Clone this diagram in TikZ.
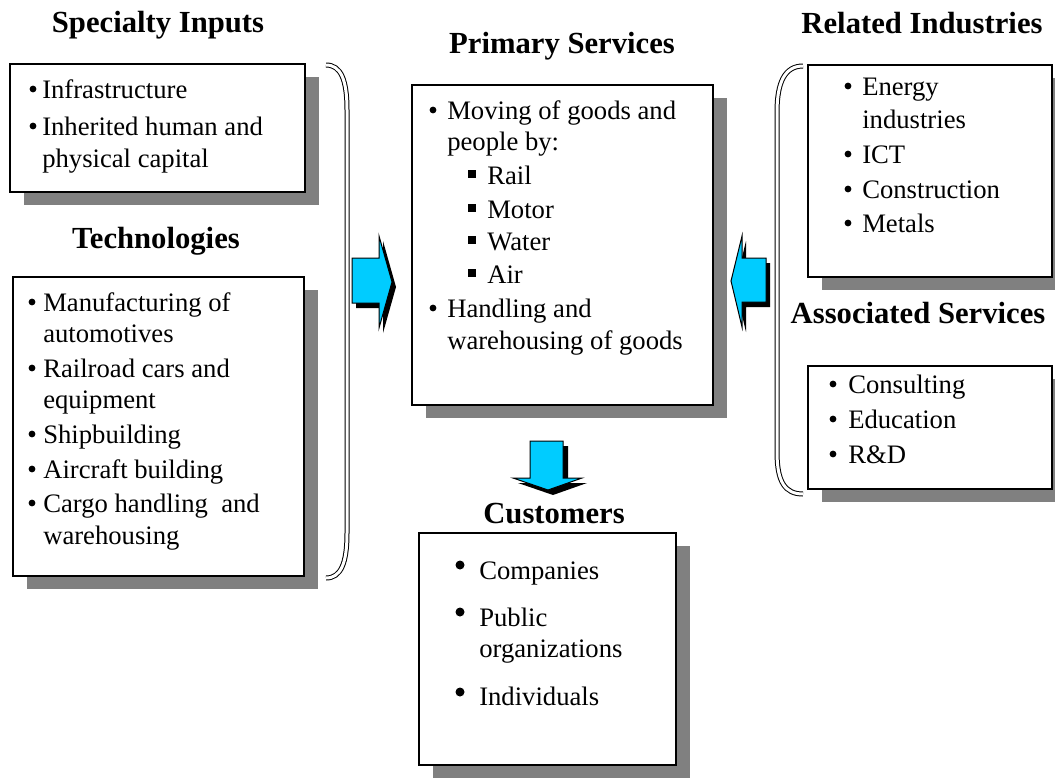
\documentclass[tikz,border=0pt]{standalone}
\usepackage{fontspec}
\setmainfont{Liberation Serif}
\usetikzlibrary{fit}
\definecolor{arrowcyan}{HTML}{00CCFF}
\definecolor{shadowgray}{HTML}{808080}
\newcommand\mytl[4]{\node[txt] (#1) at (#2,#3) {#4};}
\newcommand\mybul[2]{\fill (#1,#2) circle [radius=3.4];}
\newcommand\mybigbul[2]{\fill (#1,#2) circle [radius=4.5];}
\newcommand\mysq[2]{\fill (#1-3.6,#2-3.6) rectangle (#1+3.6,#2+3.6);}
\newcommand\myshbox[5]{%
  \fill[shadowgray] (#2+14,#3+13) rectangle (#4+14,#5+13);
  \node[boxst, fit={(#2,#3) (#4,#5)}] (#1) {};}
\begin{document}
\begin{tikzpicture}[x=0.75pt,y=-0.75pt,
  txt/.style={anchor=base west, inner sep=0pt, font=\fontsize{20}{24}\selectfont},
  ttl/.style={anchor=base, inner sep=0pt, font=\fontsize{23}{27}\selectfont\bfseries},
  boxst/.style={draw=black, line width=1.5pt, fill=white, inner sep=0pt, outer sep=0pt},
  blockarrow/.style={fill=arrowcyan, draw=black, line width=0.75pt, line join=miter},
  arrowshadow/.style={fill=black},
  bracket/.style={draw=black, double=white, double distance=2.25pt, line width=0.75pt}]
\useasboundingbox (0,0) rectangle (1055,778);
\fill[white] (0,0) rectangle (1055,778);

% ---------- boxes ----------
\myshbox{spec}{10}{64}{305}{192}
\myshbox{tech}{13}{277}{304}{576}
\myshbox{prim}{412}{85}{713}{405}
\myshbox{rel}{808}{65}{1052}{277}
\myshbox{assoc}{808}{366}{1052}{489}
\myshbox{cust}{419}{533}{676}{765}

% ---------- titles ----------
\node[ttl] (tspec) at (158,32) {Specialty Inputs};
\node[ttl] (ttech) at (156,248) {Technologies};
\node[ttl] (tprim) at (562,53) {Primary Services};
\node[ttl] (trel) at (922,33) {Related Industries};
\node[ttl] (tassoc) at (918,323) {Associated Services};
\node[ttl] (tcust) at (554,523) {Customers};

% ---------- Specialty Inputs ----------
\mybul{33}{89}\mytl{s1}{42}{98}{Infrastructure}
\mybul{33}{126}\mytl{s2}{42}{135}{Inherited human and}
\mytl{s3}{42}{167}{physical capital}

% ---------- Technologies ----------
\mybul{32}{302}\mytl{t1}{43}{311}{Manufacturing of}
\mytl{t2}{43}{342}{automotives}
\mybul{32}{368}\mytl{t3}{43}{377}{Railroad cars and}
\mytl{t4}{43}{408}{equipment}
\mybul{32}{434}\mytl{t5}{43}{443}{Shipbuilding}
\mybul{32}{469}\mytl{t6}{43}{478}{Aircraft building}
\mybul{32}{503}\mytl{t7}{43}{512}{Cargo handling\ \ and}
\mytl{t8}{43}{544}{warehousing}

% ---------- Primary Services ----------
\mybul{433}{110}\mytl{p1}{447}{119}{Moving of goods and}
\mytl{p2}{447}{150}{people by:}
\mysq{472}{174}\mytl{p3}{487}{184}{Rail}
\mysq{472}{208}\mytl{p4}{487}{218}{Motor}
\mysq{472}{240}\mytl{p5}{487}{250}{Water}
\mysq{472}{273}\mytl{p6}{487}{283}{Air}
\mybul{433}{308}\mytl{p7}{447}{317}{Handling and}
\mytl{p8}{447}{349}{warehousing of goods}

% ---------- Related Industries ----------
\mybul{848}{86}\mytl{r1}{862}{95}{Energy}
\mytl{r2}{862}{128}{industries}
\mybul{848}{154}\mytl{r3}{862}{163}{ICT}
\mybul{848}{189}\mytl{r4}{862}{198}{Construction}
\mybul{848}{223}\mytl{r5}{862}{232}{Metals}

% ---------- Associated Services ----------
\mybul{833}{384}\mytl{a1}{848}{393}{Consulting}
\mybul{833}{419}\mytl{a2}{848}{428}{Education}
\mybul{833}{454}\mytl{a3}{848}{463}{R\&D}

% ---------- Customers ----------
\mybigbul{460}{565}\mytl{c1}{479}{579}{Companies}
\mybigbul{460}{612}\mytl{c2}{479}{626}{Public}
\mytl{c3}{479}{657}{organizations}
\mybigbul{460}{692}\mytl{c4}{479}{705}{Individuals}

% ---------- brackets ----------
\draw[bracket] (326,65) .. controls (341,65) and (347,80) .. (347,110)
  -- (347,533) .. controls (347,563) and (341,578) .. (326,578);
\draw[bracket] (803,66) .. controls (785,66) and (777,82) .. (777,112)
  -- (777,452) .. controls (777,482) and (785,494) .. (803,494);

% ---------- block arrows ----------
\fill[arrowshadow, shift={(4,5)}] (352,258) -- (379,258) -- (379,236) -- (392,282) -- (379,328) -- (379,303) -- (352,303) -- cycle;
\filldraw[blockarrow] (352,258) -- (379,258) -- (379,236) -- (392,282) -- (379,328) -- (379,303) -- (352,303) -- cycle;

\fill[arrowshadow, shift={(4,5)}] (766,258) -- (742,258) -- (742,236) -- (731,281) -- (742,327) -- (742,302) -- (766,302) -- cycle;
\filldraw[blockarrow] (766,258) -- (742,258) -- (742,236) -- (731,281) -- (742,327) -- (742,302) -- (766,302) -- cycle;

\fill[arrowshadow, shift={(5,5)}] (530,441) -- (563,441) -- (563,478) -- (582,478) -- (548,490) -- (513,478) -- (530,478) -- cycle;
\filldraw[blockarrow] (530,441) -- (563,441) -- (563,478) -- (582,478) -- (548,490) -- (513,478) -- (530,478) -- cycle;
\end{tikzpicture}
\end{document}
